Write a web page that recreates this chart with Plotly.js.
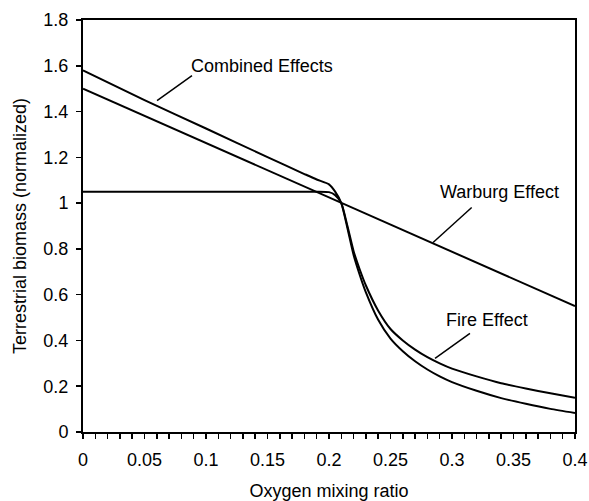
<!DOCTYPE html>
<html>
<head>
<meta charset="utf-8">
<script src="https://cdn.plot.ly/plotly-3.0.1.min.js"></script>
<style>
  html, body { margin: 0; padding: 0; background: #fff; }
  #chart { width: 589px; height: 501px; }
</style>
</head>
<body>
<div id="chart"></div>
<script>
// Oxygen mixing ratio (x) shared by the fire and combined curves
const oxygen = [0, 0.05, 0.1, 0.15, 0.18, 0.19, 0.2, 0.205, 0.21, 0.215, 0.22, 0.225, 0.23,
                0.24, 0.25, 0.26, 0.27, 0.28, 0.29, 0.3, 0.32, 0.34, 0.36, 0.38, 0.4];

// Fire effect: flat until ~0.2, then a steep fall-off
const fireEffect = [1.05, 1.05, 1.05, 1.05, 1.05, 1.05, 1.048, 1.035, 1.0, 0.9, 0.79, 0.71, 0.64,
                    0.53, 0.45, 0.40, 0.36, 0.327, 0.30, 0.277, 0.243, 0.213, 0.19, 0.169, 0.15];

// Combined effects (warburg x fire)
const combinedEffects = [1.58, 1.45, 1.326, 1.201, 1.127, 1.103, 1.082, 1.05, 1.0, 0.89, 0.773, 0.686, 0.61,
                         0.49, 0.408, 0.353, 0.309, 0.273, 0.243, 0.218, 0.18, 0.148, 0.123, 0.101, 0.083];

// Warburg effect: straight decline
const warburgX = [0, 0.1, 0.2, 0.3, 0.4];
const warburgEffect = [1.5, 1.263, 1.025, 0.788, 0.55];

// Axis tick labels
const xTickVals = [0, 0.05, 0.1, 0.15, 0.2, 0.25, 0.3, 0.35, 0.4];
const xTickText = ['0', '0.05', '0.1', '0.15', '0.2', '0.25', '0.3', '0.35', '0.4'];
const yTickVals = [0, 0.2, 0.4, 0.6, 0.8, 1, 1.2, 1.4, 1.6, 1.8];
const yTickText = ['0', '0.2', '0.4', '0.6', '0.8', '1', '1.2', '1.4', '1.6', '1.8'];

const FONT = 'Liberation Sans, Arial, sans-serif';
const FS = 18;
const lineStyle = { color: '#000', width: 2, shape: 'spline', smoothing: 0.6 };

const traces = [
  { x: oxygen, y: combinedEffects, mode: 'lines', line: lineStyle, name: 'Combined Effects' },
  { x: oxygen, y: fireEffect, mode: 'lines', line: lineStyle, name: 'Fire Effect' },
  { x: warburgX, y: warburgEffect, mode: 'lines', line: { color: '#000', width: 2 }, name: 'Warburg Effect' }
];

// Label text and its leader line (from text end to curve)
const labels = [
  { text: 'Combined Effects', tx: 0.1455, ty: 1.60, from: [0.0886, 1.557], to: [0.0602, 1.448] },
  { text: 'Warburg Effect', tx: 0.339, ty: 1.047, from: [0.316, 0.981], to: [0.2846, 0.828] },
  { text: 'Fire Effect', tx: 0.3285, ty: 0.488, from: [0.3146, 0.431], to: [0.2862, 0.322] }
];

const annotations = labels.map(l => ({
  x: l.tx, y: l.ty, xref: 'x', yref: 'y', text: l.text, showarrow: false,
  font: { family: FONT, size: FS, color: '#000' }
}));
const shapes = labels.map(l => ({
  type: 'line', xref: 'x', yref: 'y',
  x0: l.from[0], y0: l.from[1], x1: l.to[0], y1: l.to[1],
  line: { color: '#000', width: 1.5 }
}));

const layout = {
  width: 589, height: 501,
  margin: { l: 83, r: 14, t: 20, b: 69, pad: 0 },
  paper_bgcolor: '#fff', plot_bgcolor: '#fff',
  showlegend: false,
  font: { family: FONT, size: FS, color: '#000' },
  xaxis: {
    range: [0, 0.4], tickvals: xTickVals, ticktext: xTickText,
    ticks: 'outside', ticklen: 5, tickwidth: 1.5, tickcolor: '#000',
    minor: { dtick: 0.01, tick0: 0, ticks: 'outside', ticklen: 5, tickwidth: 1.5, tickcolor: '#000' },
    showgrid: false, zeroline: false,
    showline: true, linecolor: '#000', linewidth: 2, mirror: true,
    tickfont: { family: FONT, size: FS, color: '#000' },
    ticklabelstandoff: 5,
    title: { text: 'Oxygen mixing ratio', font: { family: FONT, size: FS, color: '#000' }, standoff: 18 }
  },
  yaxis: {
    range: [0, 1.8], tickvals: yTickVals, ticktext: yTickText,
    ticks: 'outside', ticklen: 5, tickwidth: 1.5, tickcolor: '#000',
    showgrid: false, zeroline: false,
    showline: true, linecolor: '#000', linewidth: 2, mirror: true,
    tickfont: { family: FONT, size: FS, color: '#000' },
    ticklabelstandoff: 4,
    title: { text: 'Terrestrial biomass (normalized)', font: { family: FONT, size: FS, color: '#000' }, standoff: 12 }
  },
  annotations: annotations,
  shapes: shapes
};

Plotly.newPlot('chart', traces, layout, { displayModeBar: false, staticPlot: true });
</script>
</body>
</html>
